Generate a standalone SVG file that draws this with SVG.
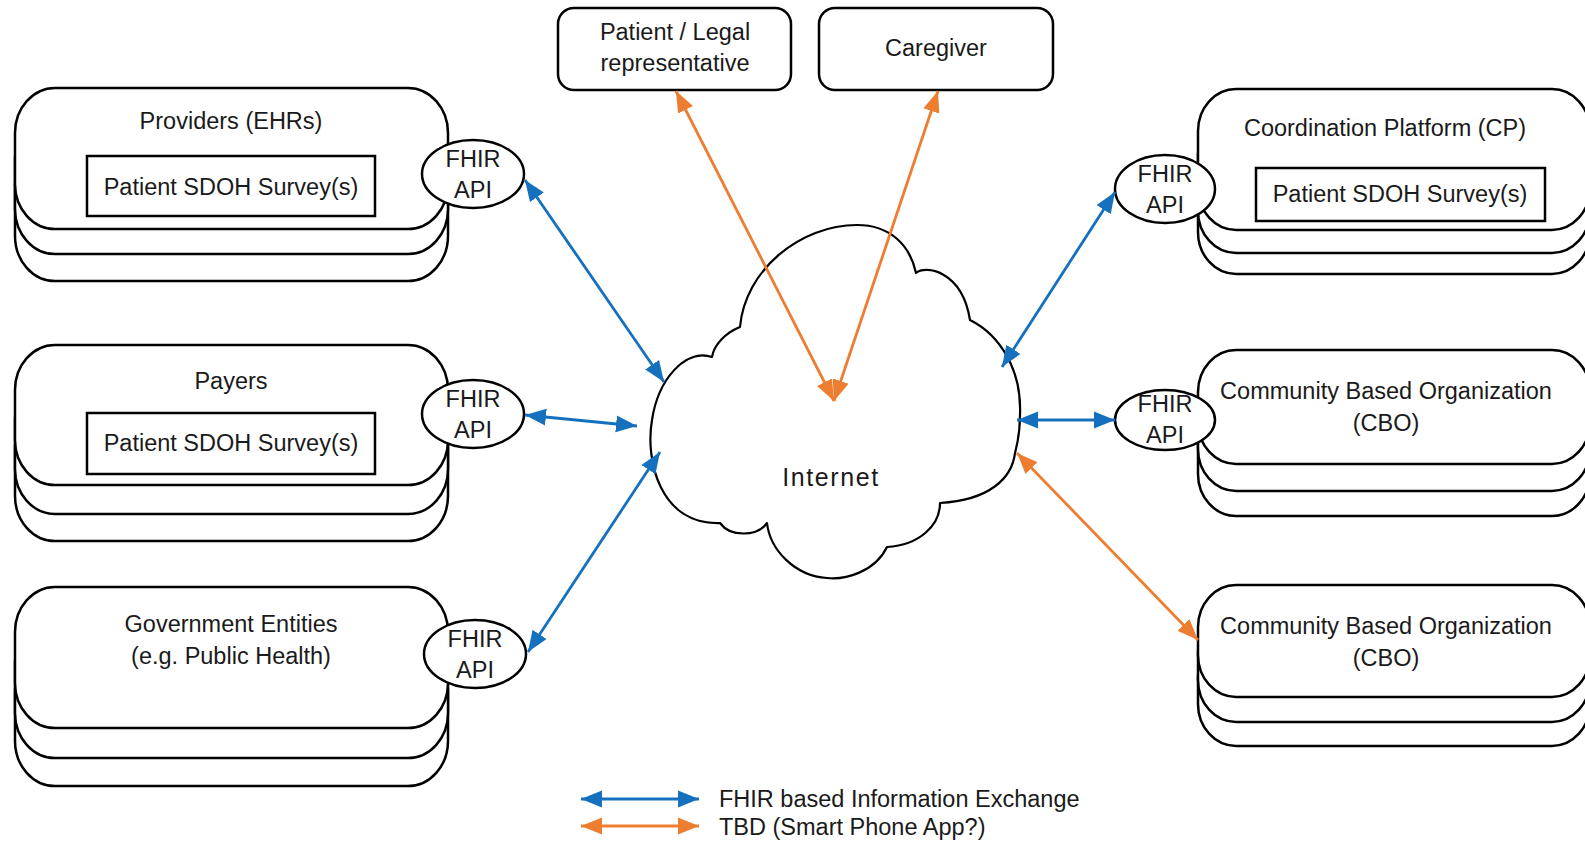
<svg xmlns="http://www.w3.org/2000/svg" width="1585" height="842" viewBox="0 0 1585 842">
<style>
  .box{fill:#fff;stroke:#000;stroke-width:2.5}
  .inner{fill:#fff;stroke:#000;stroke-width:2.5}
  .api{fill:#fff;stroke:#000;stroke-width:2.5}
  .cloud{fill:#fff;stroke:#000;stroke-width:2.2;stroke-linejoin:round}
  text{font-family:"Liberation Sans",Arial,sans-serif;font-size:23.5px;fill:#1a1a1a;text-anchor:middle}
  .lg{text-anchor:start}
  .blue{stroke:#1570BE;stroke-width:2.8;fill:none;marker-start:url(#ab);marker-end:url(#ab)}
  .orange{stroke:#ED7D31;stroke-width:2.8;fill:none;marker-start:url(#ao);marker-end:url(#ao)}
</style>
<defs>
  <marker id="ab" viewBox="0 0 10 8" refX="10" refY="4" markerWidth="7.5" markerHeight="6.2" orient="auto-start-reverse" markerUnits="strokeWidth">
    <path d="M0,0 L10,4 L0,8 z" fill="#1570BE"/>
  </marker>
  <marker id="ao" viewBox="0 0 10 8" refX="10" refY="4" markerWidth="7.5" markerHeight="6.2" orient="auto-start-reverse" markerUnits="strokeWidth">
    <path d="M0,0 L10,4 L0,8 z" fill="#ED7D31"/>
  </marker>
</defs>
<rect width="1585" height="842" fill="#fff"/>

<!-- Cloud -->
<g id="internet">
  <path class="cloud" d="M712,357 C714,345 725,333 740,327 C745,270 800,225 857,225 C890,225 910,245 916,273 C925,265 962,270 970,320 C1000,335 1022,370 1020,415 C1020,435 1017,445 1015,453 C1012,478 990,500 940,503 C940,525 920,545 887,547 C875,572 845,580 827,578 C795,576 770,550 767,523 C757,537 730,537 720,523 C660,525 645,460 652,420 C658,380 685,348 712,357 Z"/>
  <text x="831" y="486" style="font-size:25px;letter-spacing:1.6px">Internet</text>
</g>

<!-- Providers -->
<g id="providers">
  <rect class="box" x="15" y="140" width="433" height="141" rx="40" ry="45"/>
  <rect class="box" x="15" y="113" width="433" height="141" rx="40" ry="45"/>
  <rect class="box" x="15" y="88" width="433" height="141" rx="40" ry="45"/>
  <text x="231" y="129">Providers (EHRs)</text>
  <rect class="inner" x="87" y="156" width="288" height="60"/>
  <text x="231" y="195">Patient SDOH Survey(s)</text>
  <ellipse class="api" cx="473" cy="174" rx="51" ry="34"/>
  <text x="473" y="167">FHIR</text>
  <text x="473" y="198">API</text>
</g>

<!-- Payers -->
<g id="payers">
  <rect class="box" x="15" y="401" width="433" height="140" rx="40" ry="45"/>
  <rect class="box" x="15" y="374" width="433" height="140" rx="40" ry="45"/>
  <rect class="box" x="15" y="345" width="433" height="140" rx="40" ry="45"/>
  <text x="231" y="389">Payers</text>
  <rect class="inner" x="87" y="413" width="288" height="61"/>
  <text x="231" y="451">Patient SDOH Survey(s)</text>
  <ellipse class="api" cx="473" cy="414" rx="51" ry="34"/>
  <text x="473" y="407">FHIR</text>
  <text x="473" y="438">API</text>
</g>

<!-- Government -->
<g id="government">
  <rect class="box" x="15" y="645" width="433" height="141" rx="40" ry="45"/>
  <rect class="box" x="15" y="617" width="433" height="141" rx="40" ry="45"/>
  <rect class="box" x="15" y="587" width="433" height="141" rx="40" ry="45"/>
  <text x="231" y="632">Government Entities</text>
  <text x="231" y="664">(e.g. Public Health)</text>
  <ellipse class="api" cx="475" cy="654" rx="51" ry="34"/>
  <text x="475" y="647">FHIR</text>
  <text x="475" y="678">API</text>
</g>

<!-- Patient / Legal representative -->
<g id="patient">
  <rect class="box" x="558" y="8" width="233" height="82" rx="16" ry="16"/>
  <text x="675" y="40">Patient / Legal</text>
  <text x="675" y="71">representative</text>
</g>

<!-- Caregiver -->
<g id="caregiver">
  <rect class="box" x="819" y="8" width="234" height="82" rx="16" ry="16"/>
  <text x="936" y="56">Caregiver</text>
</g>

<!-- Coordination Platform -->
<g id="cp">
  <rect class="box" x="1198" y="133" width="392" height="141" rx="38" ry="42"/>
  <rect class="box" x="1198" y="112" width="392" height="141" rx="38" ry="42"/>
  <rect class="box" x="1198" y="89" width="392" height="141" rx="38" ry="42"/>
  <text x="1385" y="136">Coordination Platform (CP)</text>
  <rect class="inner" x="1256" y="168" width="289" height="53"/>
  <text x="1400" y="202">Patient SDOH Survey(s)</text>
  <ellipse class="api" cx="1165" cy="189" rx="50" ry="34"/>
  <text x="1165" y="182">FHIR</text>
  <text x="1165" y="213">API</text>
</g>

<!-- CBO 1 -->
<g id="cbo1">
  <rect class="box" x="1198" y="402" width="392" height="114" rx="38" ry="42"/>
  <rect class="box" x="1198" y="377" width="392" height="114" rx="38" ry="42"/>
  <rect class="box" x="1198" y="350" width="392" height="114" rx="38" ry="42"/>
  <text x="1386" y="399">Community Based Organization</text>
  <text x="1386" y="431">(CBO)</text>
  <ellipse class="api" cx="1165" cy="420" rx="50" ry="30"/>
  <text x="1165" y="412">FHIR</text>
  <text x="1165" y="443">API</text>
</g>

<!-- CBO 2 -->
<g id="cbo2">
  <rect class="box" x="1198" y="634" width="392" height="112" rx="38" ry="42"/>
  <rect class="box" x="1198" y="610" width="392" height="112" rx="38" ry="42"/>
  <rect class="box" x="1198" y="585" width="392" height="112" rx="38" ry="42"/>
  <text x="1386" y="634">Community Based Organization</text>
  <text x="1386" y="666">(CBO)</text>
</g>

<!-- Connectors -->
<g id="connectors">
  <line class="blue" x1="525" y1="180" x2="664" y2="382"/>
  <line class="blue" x1="525" y1="415" x2="637" y2="426"/>
  <line class="blue" x1="528" y1="652" x2="660" y2="452"/>
  <line class="blue" x1="1002" y1="367" x2="1115" y2="192"/>
  <line class="blue" x1="1017" y1="420" x2="1115" y2="420"/>
  <line class="orange" x1="1017" y1="453" x2="1198" y2="640"/>
  <line class="orange" x1="676" y1="91" x2="834" y2="401"/>
  <line class="orange" x1="938" y1="91" x2="834" y2="401"/>
</g>

<!-- Legend -->
<g id="legend">
  <line class="blue" x1="581" y1="799" x2="699" y2="799"/>
  <line class="orange" x1="581" y1="826" x2="699" y2="826"/>
  <text class="lg" x="719" y="807">FHIR based Information Exchange</text>
  <text class="lg" x="719" y="835">TBD (Smart Phone App?)</text>
</g>
</svg>
